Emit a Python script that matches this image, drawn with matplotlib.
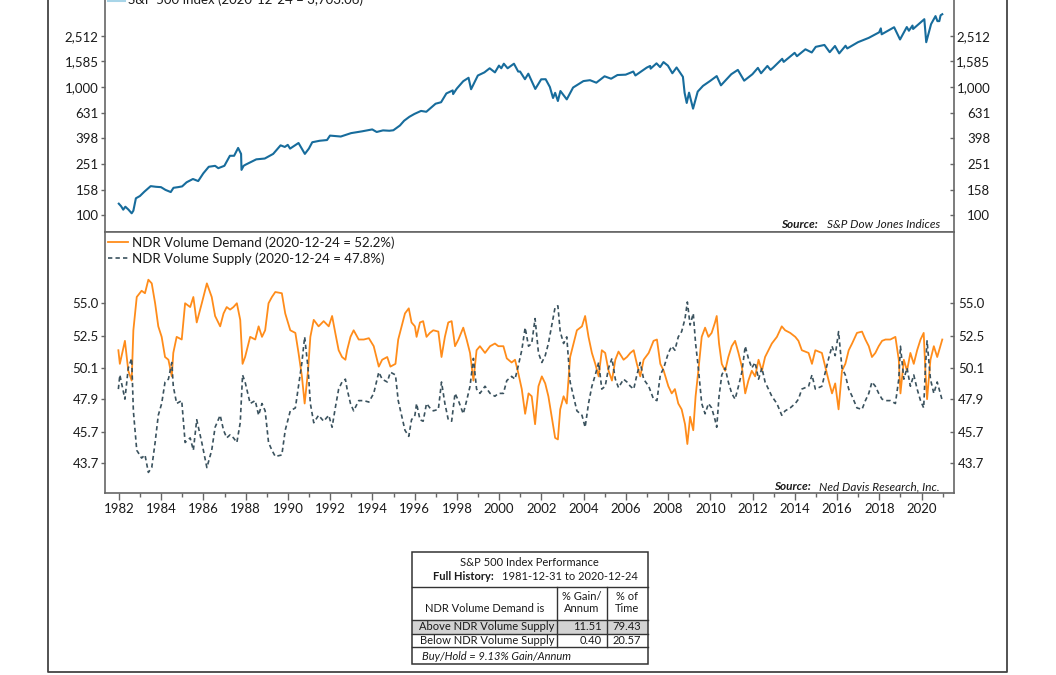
import matplotlib
matplotlib.use("Agg")
import matplotlib.pyplot as plt
from matplotlib.lines import Line2D
from matplotlib.patches import Rectangle
from matplotlib.ticker import NullLocator, FixedLocator

plt.rcParams['font.family'] = ['Lato', 'DejaVu Sans']

# ---- S&P 500 index ----
spx_years = [1981.99, 1982.10, 1982.20, 1982.30, 1982.45, 1982.60, 1982.68, 1982.80, 1982.99,
             1983.20, 1983.50, 1983.75, 1983.99, 1984.20, 1984.45, 1984.58, 1984.80, 1984.99,
             1985.20, 1985.50, 1985.75, 1985.99, 1986.25, 1986.55, 1986.70, 1986.99, 1987.25,
             1987.45, 1987.64, 1987.78, 1987.80, 1987.90, 1987.99, 1988.30, 1988.50, 1988.90,
             1989.30, 1989.65, 1989.85, 1989.99, 1990.10, 1990.50, 1990.80, 1990.99, 1991.15,
             1991.50, 1991.85, 1991.99, 1992.50, 1992.99, 1993.50, 1993.99, 1994.20, 1994.50,
             1994.80, 1994.99, 1995.30, 1995.50, 1995.75, 1995.99, 1996.30, 1996.55, 1996.99,
             1997.25, 1997.50, 1997.80, 1997.82, 1997.99, 1998.30, 1998.55, 1998.67, 1998.99,
             1999.30, 1999.55, 1999.80, 1999.99, 2000.10, 2000.22, 2000.40, 2000.70, 2000.90,
             2000.99, 2001.22, 2001.38, 2001.71, 2001.99, 2002.20, 2002.40, 2002.55, 2002.65,
             2002.78, 2002.90, 2003.20, 2003.50, 2003.99, 2004.30, 2004.60, 2004.99, 2005.30,
             2005.60, 2005.99, 2006.35, 2006.45, 2006.99, 2007.15, 2007.17, 2007.45, 2007.62,
             2007.78, 2007.99, 2008.20, 2008.40, 2008.70, 2008.78, 2008.88, 2008.99, 2009.18,
             2009.40, 2009.65, 2009.99, 2010.30, 2010.50, 2010.99, 2011.30, 2011.60, 2011.99,
             2012.25, 2012.40, 2012.70, 2012.85, 2012.99, 2013.40, 2013.47, 2013.99, 2014.10,
             2014.50, 2014.80, 2014.99, 2015.40, 2015.65, 2015.90, 2016.10, 2016.40, 2016.48,
             2016.99, 2017.50, 2017.99, 2018.07, 2018.11, 2018.70, 2018.98, 2019.30, 2019.40,
             2019.57, 2019.60, 2019.99, 2020.13, 2020.22, 2020.45, 2020.66, 2020.75, 2020.84,
             2020.90, 2020.98]
spx = [122.5, 117, 110, 116, 110, 103, 108, 135, 140.6,
       152, 168, 166, 164.9, 157, 151, 163, 165, 167.2,
       180, 191, 184, 211.3, 238, 242, 232, 242.2, 290,
       290, 334, 300, 225, 242, 247, 262, 272, 276,
       300, 350, 340, 353, 330, 365, 300, 330, 370,
       380, 385, 417, 410, 436, 450, 466, 445, 458,
       455, 459, 500, 545, 585, 616, 650, 640, 740,
       760, 890, 940, 880, 970, 1110, 1180, 960, 1229,
       1300, 1400, 1300, 1469, 1400, 1520, 1400, 1520, 1320,
       1320, 1150, 1270, 965, 1148, 1150, 1000, 820, 900,
       777, 930, 800, 990, 1112, 1130, 1080, 1212, 1160,
       1240, 1248, 1320, 1230, 1418, 1460, 1390, 1530, 1430,
       1565, 1468, 1280, 1420, 1200, 900, 750, 903, 677,
       920, 1020, 1115, 1217, 1030, 1258, 1360, 1120, 1258,
       1410, 1280, 1460, 1360, 1426, 1660, 1570, 1848, 1740,
       1970, 1860, 2059, 2130, 1870, 2090, 1830, 2100, 2000,
       2239, 2420, 2674, 2870, 2580, 2930, 2350, 2940, 2750,
       3020, 2840, 3231, 3386, 2237, 3100, 3580, 3270, 3270,
       3630, 3703]
spx_ticks = [100, 158, 251, 398, 631, 1000, 1585, 2512]
spx_tick_labels = ['100', '158', '251', '398', '631', '1,000', '1,585', '2,512']

# ---- NDR Volume Demand / Supply (%) ----
ndr_years = [1981.97, 1982.04, 1982.28, 1982.44, 1982.60, 1982.68, 1982.84, 1983.07, 1983.23, 1983.39,
             1983.55, 1983.71, 1983.86, 1984.02, 1984.18, 1984.34, 1984.50, 1984.57, 1984.73, 1984.97,
             1985.13, 1985.37, 1985.52, 1985.68, 1985.92, 1986.16, 1986.39, 1986.55, 1986.79, 1986.95,
             1987.10, 1987.26, 1987.42, 1987.58, 1987.74, 1987.85, 1987.97, 1988.21, 1988.45, 1988.61,
             1988.77, 1988.92, 1989.08, 1989.24, 1989.40, 1989.71, 1989.87, 1990.11, 1990.35, 1990.50,
             1990.66, 1990.79, 1990.95, 1991.06, 1991.22, 1991.45, 1991.69, 1991.93, 1992.09, 1992.24,
             1992.40, 1992.56, 1992.72, 1992.80, 1992.96, 1993.11, 1993.35, 1993.59, 1993.83, 1994.06,
             1994.30, 1994.46, 1994.70, 1994.85, 1995.09,
             1995.22, 1995.38, 1995.54, 1995.72, 1995.85, 1996.01, 1996.09, 1996.25, 1996.40, 1996.56,
             1996.72, 1996.88, 1997.12, 1997.27, 1997.43, 1997.59, 1997.75, 1997.91, 1998.07, 1998.30,
             1998.46, 1998.62, 1998.78, 1998.93, 1999.09, 1999.33, 1999.57, 1999.80, 1999.96, 2000.20,
             2000.36, 2000.59, 2000.75, 2000.91, 2001.07, 2001.23, 2001.39, 2001.54, 2001.70, 2001.86,
             2002.02, 2002.18, 2002.33, 2002.49, 2002.65, 2002.78, 2002.89, 2003.05, 2003.20, 2003.36,
             2003.52, 2003.68, 2003.92, 2004.07, 2004.23, 2004.39, 2004.55, 2004.71, 2004.86, 2005.02,
             2005.18, 2005.34, 2005.50, 2005.65, 2005.89, 2006.05, 2006.21, 2006.37, 2006.52, 2006.68,
             2006.84, 2007.08, 2007.31, 2007.47, 2007.63, 2007.79,
             2008.01, 2008.17, 2008.32, 2008.48, 2008.64, 2008.80, 2008.91, 2009.04, 2009.19, 2009.30,
             2009.43, 2009.59, 2009.75, 2009.91, 2010.06, 2010.22, 2010.30, 2010.41, 2010.54, 2010.70,
             2010.85, 2011.01, 2011.17, 2011.33, 2011.49, 2011.65, 2011.80, 2011.96, 2012.12, 2012.28,
             2012.44, 2012.59, 2012.75, 2012.91, 2013.15, 2013.38, 2013.54, 2013.78, 2014.02, 2014.17,
             2014.33, 2014.49, 2014.65, 2014.81, 2014.97, 2015.12, 2015.28, 2015.44, 2015.60, 2015.76,
             2015.91, 2016.07, 2016.23, 2016.39, 2016.55, 2016.71, 2016.94, 2017.18, 2017.34, 2017.50,
             2017.65, 2017.81, 2017.97, 2018.13, 2018.29, 2018.52, 2018.76, 2018.92, 2019.00, 2019.16,
             2019.31, 2019.47, 2019.63, 2019.79, 2019.95, 2020.10, 2020.18, 2020.26, 2020.42, 2020.58,
             2020.74, 2020.98]
demand = [51.4, 50.4, 52.1, 49.9, 49.2, 52.9, 55.5, 56.0, 55.8, 56.9,
          56.6, 55.0, 53.2, 52.4, 50.9, 50.7, 49.5, 51.2, 52.4, 52.2,
          55.0, 54.7, 55.5, 53.5, 55.0, 56.6, 55.5, 54.0, 53.2, 54.2,
          54.7, 54.5, 54.7, 55.0, 53.7, 50.4, 50.9, 52.4, 52.2, 53.2,
          52.4, 52.9, 55.0, 55.5, 55.9, 55.8, 54.2, 52.9, 52.7, 51.2,
          49.5, 47.6, 49.9, 52.4, 53.7, 53.2, 53.6, 53.2, 54.0, 52.7,
          51.4, 50.9, 50.7, 51.4, 52.4, 52.9, 52.2, 52.2, 52.3, 51.7,
          50.2, 50.7, 50.9, 50.2, 50.4,
          52.2, 53.2, 54.2, 54.6, 53.5, 53.2, 52.4, 53.5, 53.6, 52.4,
          52.7, 52.9, 52.8, 50.9, 52.4, 53.5, 53.6, 51.7, 52.2, 53.1,
          52.2, 51.2, 49.2, 51.4, 51.7, 51.2, 51.7, 51.9, 51.7, 51.7,
          50.8, 50.5, 50.7, 49.7, 48.6, 46.9, 48.3, 48.1, 46.2, 48.8,
          49.5, 49.0, 48.1, 46.7, 45.3, 45.2, 47.2, 48.1, 47.6, 50.9,
          51.9, 52.9, 53.2, 54.0, 52.4, 51.2, 50.4, 49.5, 51.4, 51.2,
          49.9, 49.2, 50.7, 51.3, 50.7, 50.9, 51.2, 51.4, 50.4, 49.5,
          50.7, 51.2, 52.1, 52.2, 50.4, 49.9,
          48.8, 48.3, 48.6, 47.6, 47.2, 46.2, 44.9, 46.7, 45.8, 48.1,
          49.9, 52.4, 53.1, 52.4, 52.7, 53.5, 54.0, 51.9, 50.4, 49.9,
          50.9, 51.7, 52.1, 51.2, 50.2, 48.3, 49.2, 49.9, 49.5, 50.7,
          49.9, 50.9, 51.4, 51.9, 52.4, 53.2, 52.9, 52.7, 52.4, 52.1,
          51.4, 51.3, 51.2, 50.4, 51.4, 51.3, 51.2, 50.2, 49.2, 48.3,
          49.0, 47.2, 49.9, 50.4, 51.4, 51.9, 52.7, 52.8, 52.2, 51.7,
          50.9, 51.2, 51.7, 52.1, 52.2, 52.2, 52.4, 50.7, 48.3, 50.7,
          49.9, 51.2, 50.4, 51.4, 52.2, 52.7, 49.9, 47.9, 50.7, 51.7,
          50.9, 52.2]
supply = [48.6, 49.6, 47.9, 50.1, 50.8, 47.1, 44.5, 44.0, 44.2, 43.1,
          43.4, 45.0, 46.8, 47.6, 49.1, 49.3, 50.5, 48.8, 47.6, 47.8,
          45.0, 45.3, 44.5, 46.5, 45.0, 43.4, 44.5, 46.0, 46.8, 45.8,
          45.3, 45.5, 45.3, 45.0, 46.3, 49.6, 49.1, 47.6, 47.8, 46.8,
          47.6, 47.1, 45.0, 44.5, 44.1, 44.2, 45.8, 47.1, 47.3, 48.8,
          50.5, 52.4, 50.1, 47.6, 46.3, 46.8, 46.4, 46.8, 46.0, 47.3,
          48.6, 49.1, 49.3, 48.6, 47.6, 47.1, 47.8, 47.8, 47.7, 48.3,
          49.8, 49.3, 49.1, 49.8, 49.6,
          47.8, 46.8, 45.8, 45.4, 46.5, 46.8, 47.6, 46.5, 46.4, 47.6,
          47.3, 47.1, 47.2, 49.1, 47.6, 46.5, 46.4, 48.3, 47.8, 46.9,
          47.8, 48.8, 50.8, 48.6, 48.3, 48.8, 48.3, 48.1, 48.3, 48.3,
          49.2, 49.5, 49.3, 50.3, 51.4, 53.1, 51.7, 51.9, 53.8, 51.2,
          50.5, 51.0, 51.9, 53.3, 54.7, 54.8, 52.8, 51.9, 52.4, 49.1,
          48.1, 47.1, 46.8, 46.0, 47.6, 48.8, 49.6, 50.5, 48.6, 48.8,
          50.1, 50.8, 49.3, 48.7, 49.3, 49.1, 48.8, 48.6, 49.6, 50.5,
          49.3, 48.8, 47.9, 47.8, 49.6, 50.1,
          51.2, 51.7, 51.4, 52.4, 52.8, 53.8, 55.1, 53.3, 54.2, 51.9,
          50.1, 47.6, 46.9, 47.6, 47.3, 46.5, 46.0, 48.1, 49.6, 50.1,
          49.1, 48.3, 47.9, 48.8, 49.8, 51.7, 50.8, 50.1, 50.5, 49.3,
          50.1, 49.1, 48.6, 48.1, 47.6, 46.8, 47.1, 47.3, 47.6, 47.9,
          48.6, 48.7, 48.8, 49.6, 48.6, 48.7, 48.8, 49.8, 50.8, 51.7,
          51.0, 52.8, 50.1, 49.6, 48.6, 48.1, 47.3, 47.2, 47.8, 48.3,
          49.1, 48.8, 48.3, 47.9, 47.8, 47.8, 47.6, 49.3, 51.7, 49.3,
          50.1, 48.8, 49.6, 48.6, 47.8, 47.3, 50.1, 52.1, 49.3, 48.3,
          49.1, 47.8]
ndr_ticks = [43.7, 45.7, 47.9, 50.1, 52.5, 55.0]
ndr_tick_labels = ['43.7', '45.7', '47.9', '50.1', '52.5', '55.0']

# ---- performance table ----
perf_rows = ['Above NDR Volume Supply', 'Below NDR Volume Supply']
perf_gain = [11.51, 0.40]
perf_time = [79.43, 20.57]
buy_hold = 9.13

SPX_C = '#176c9c'
DEM_C = '#ff8c1a'
SUP_C = '#3a525e'
SPINE = '#666666'
TXT = '#1a1a1a'

W, H = 1056, 675
fig = plt.figure(figsize=(W / 100, H / 100), dpi=100, facecolor='white')


def box(l, t, r, b):
    return [l / W, 1 - b / H, (r - l) / W, (b - t) / H]


ax1 = fig.add_axes(box(105, -12, 954, 232))
ax2 = fig.add_axes(box(105, 232, 954, 493), sharex=ax1)


def style_y(ax, lims, ticks, labels, rpad, rha):
    ax.set_yscale('log')
    ax.set_ylim(*lims)
    ax.set_yticks(ticks, labels)
    ax.yaxis.set_minor_locator(NullLocator())
    ax.tick_params(axis='y', direction='out', length=3, width=1, pad=1.5,
                   labelsize=9.5, color=SPINE, labelcolor=TXT)
    for s in ax.spines.values():
        s.set_color(SPINE)
        s.set_linewidth(1.2)
    r = ax.twinx()
    r.set_yscale('log')
    r.set_ylim(*lims)
    r.set_yticks(ticks, labels)
    r.yaxis.set_minor_locator(NullLocator())
    r.tick_params(axis='y', direction='in', length=3, width=1, pad=rpad,
                  labelsize=9.5, color=SPINE, labelcolor=TXT)
    for lab in r.get_yticklabels():
        lab.set_horizontalalignment(rha)
    for s in r.spines.values():
        s.set_visible(False)
    return r


style_y(ax1, (73.6, 5934), spx_ticks, spx_tick_labels, 26, 'right')
style_y(ax2, (41.84, 60.95), ndr_ticks, ndr_tick_labels, 3, 'left')

ax2.set_xlim(1981.337, 2021.535)
ax2.xaxis.set_major_locator(FixedLocator(range(1982, 2021, 2)))
ax2.xaxis.set_minor_locator(FixedLocator(range(1981, 2022, 2)))
ax2.tick_params(axis='x', which='major', direction='out', length=5, width=1, pad=2,
                labelsize=9.5, color=SPINE, labelcolor=TXT)
ax2.tick_params(axis='x', which='minor', direction='out', length=3, width=1, color=SPINE)
ax1.tick_params(axis='x', which='both', bottom=False, labelbottom=False)

ax1.plot(spx_years, spx, color=SPX_C, lw=1.5)
dem_line, = ax2.plot(ndr_years, demand, color=DEM_C, lw=1.3,
                     label='NDR Volume Demand (2020-12-24 = 52.2%)')
sup_line, = ax2.plot(ndr_years, supply, color=SUP_C, lw=1.2, ls=(0, (2.6, 1.9)),
                     label='NDR Volume Supply (2020-12-24 = 47.8%)')

ax1.legend(handles=[Line2D([], [], color='#a8d5e8', lw=2.2)],
           labels=['S&P 500 Index (2020-12-24 = 3,703.06)'],
           loc='center left', bbox_to_anchor=(108 / W, 1.0), bbox_transform=fig.transFigure,
           frameon=False, borderpad=0, borderaxespad=0, handlelength=1.25,
           handletextpad=0.3, fontsize=9.5, labelcolor=TXT)
ax2.legend(handles=[dem_line, sup_line], loc='upper left',
           bbox_to_anchor=(108 / W, 1 - 236 / H), bbox_transform=fig.transFigure,
           frameon=False, borderpad=0, borderaxespad=0, handlelength=1.5,
           handletextpad=0.3, labelspacing=0.3, fontsize=9.5, labelcolor=TXT)

# overlay in pixel coordinates for frame, sources and table
ov = fig.add_axes([0, 0, 1, 1], zorder=5)
ov.set_xlim(0, W)
ov.set_ylim(H, 0)
ov.axis('off')

ov.plot([48, 48, 1007, 1007], [-5, 672, 672, -5], color='#444444', lw=1.3, clip_on=False)

renderer = fig.canvas.get_renderer()
for ys, src in [(225, 'S&P Dow Jones Indices'), (487, 'Ned Davis Research, Inc.')]:
    t = ov.text(940, ys, src, ha='right', va='center', style='italic', fontsize=8.5, color=TXT)
    left = t.get_window_extent(renderer).x0
    ov.text(left - 9, ys, 'Source:', ha='right', va='center', style='italic',
            weight='bold', fontsize=8.5, color=TXT)

# table
tl, tr, tt, tb = 411.5, 647.5, 551.5, 663.5
c1, c2 = 557, 607
ov.add_patch(Rectangle((tl, 620), tr - tl, 14, fc='#d3d3d3', ec='none'))
ov.add_patch(Rectangle((tl, tt), tr - tl, tb - tt, fill=False, ec='#333333', lw=1.1))
for yy in [587, 620, 634, 647]:
    ov.plot([tl, tr], [yy, yy], color='#333333', lw=1.0)
for xx in [c1, c2]:
    ov.plot([xx, xx], [587, 647], color='#333333', lw=1.0)

fs = 8
ov.text((tl + tr) / 2, 563, 'S&P 500 Index Performance', ha='center', va='center', fontsize=fs, color=TXT)
ov.text(494, 576, 'Full History:', ha='right', va='center', weight='bold', fontsize=fs, color=TXT)
ov.text(502, 576, '1981-12-31 to 2020-12-24', ha='left', va='center', fontsize=fs, color=TXT)
ov.text(485, 609, 'NDR Volume Demand is', ha='center', va='center', fontsize=fs, color=TXT)
ov.text((c1 + c2) / 2, 596, '% Gain/', ha='center', va='center', fontsize=fs, color=TXT)
ov.text((c1 + c2) / 2, 609, 'Annum', ha='center', va='center', fontsize=fs, color=TXT)
ov.text((c2 + tr) / 2, 596, '% of', ha='center', va='center', fontsize=fs, color=TXT)
ov.text((c2 + tr) / 2, 609, 'Time', ha='center', va='center', fontsize=fs, color=TXT)
for yy, lab, g, tm in zip([626.5, 640.5], perf_rows, perf_gain, perf_time):
    ov.text(554, yy, lab, ha='right', va='center', fontsize=fs, color=TXT)
    ov.text(602, yy, f'{g:.2f}', ha='right', va='center', fontsize=fs, color=TXT)
    ov.text(641, yy, f'{tm:.2f}', ha='right', va='center', fontsize=fs, color=TXT)
ov.text(421.5, 656, f'Buy/Hold = {buy_hold:.2f}% Gain/Annum', ha='left', va='center',
        style='italic', fontsize=fs, color=TXT)

fig.savefig('out.png', dpi=100)
